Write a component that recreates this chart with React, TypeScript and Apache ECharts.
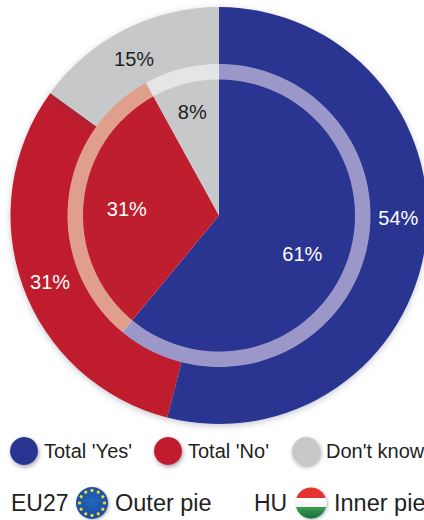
import React, { useEffect, useRef } from "react";
import * as echarts from "echarts";

const categories = ["Total 'Yes'", "Total 'No'", "Don't know"];
const outerValues = [54, 31, 15]; // EU27
const innerValues = [61, 31, 8]; // HU
const sliceColors = ["#2a3591", "#bf1e2e", "#c7c8ca"];
const ringColors = ["#9b98c9", "#e09f8c", "#e4e5e7"];
const outerLabelColors = ["#ffffff", "#ffffff", "#231f20"];
const innerLabelColors = ["#ffffff", "#ffffff", "#231f20"];
const outerLabelShift = [[-2, -20], [3, 5], [-2, 6]];
const innerLabelShift = [[16, 14], [-21, 0], [-9, -34]];

const FONT = "Liberation Sans";
const INK = "#231f20";
const CENTER = ["219px", "215.5px"];
const LEGEND_X = [10, 154, 292];
const LEGEND_Y = 437;

// Gold stars on the round EU badge.
function euStars(cx: number, cy: number, r: number, count: number) {
  const stars = [];
  for (let i = 0; i < count; i++) {
    const a = (i / count) * Math.PI * 2;
    stars.push({
      type: "circle",
      shape: { cx: cx + Math.cos(a) * r, cy: cy + Math.sin(a) * r, r: 1.6 },
      style: { fill: "#f4d92a" },
    });
  }
  return stars;
}

function pieData(values: number[], colors: string[], labelColors?: string[]) {
  return values.map((value, i) => ({
    name: categories[i],
    value,
    itemStyle: { color: colors[i] },
    label: labelColors ? { color: labelColors[i] } : undefined,
  }));
}

export default function App() {
  const ref = useRef<HTMLDivElement>(null);

  useEffect(() => {
    document.body.style.margin = "0";
    document.body.style.overflow = "hidden";
    const chart = echarts.init(ref.current!, null, { renderer: "svg" });
    const labelBase = {
      show: true,
      position: "inside" as const,
      formatter: "{c}%",
      fontFamily: FONT,
      fontSize: 20,
      textBorderWidth: 0,
    };
    chart.setOption({
      animation: false,
      backgroundColor: "#ffffff",
      legend: categories.map((name, i) => ({
        data: [name],
        left: LEGEND_X[i],
        top: LEGEND_Y,
        padding: 0,
        icon: "circle",
        itemWidth: 28,
        itemHeight: 28,
        selectedMode: false,
        itemStyle: {
          shadowColor: "rgba(50,50,70,0.45)",
          shadowBlur: 4,
          shadowOffsetX: 1,
          shadowOffsetY: 2,
        },
        textStyle: {
          fontFamily: FONT,
          fontSize: 20,
          color: INK,
          padding: [0, 0, 0, 1],
        },
      })),
      series: [
        {
          name: "EU27",
          type: "pie",
          center: CENTER,
          radius: [151, 208.5],
          startAngle: 90,
          silent: true,
          labelLine: { show: false },
          label: labelBase,
          labelLayout: (p: any) => ({
            dx: outerLabelShift[p.dataIndex][0],
            dy: outerLabelShift[p.dataIndex][1],
          }),
          itemStyle: {
            shadowColor: "rgba(60,70,100,0.3)",
            shadowBlur: 6,
            shadowOffsetY: 2,
          },
          data: pieData(outerValues, sliceColors, outerLabelColors),
        },
        {
          name: "HU",
          type: "pie",
          center: CENTER,
          radius: [0, 137],
          startAngle: 90,
          silent: true,
          labelLine: { show: false },
          label: labelBase,
          labelLayout: (p: any) => ({
            dx: innerLabelShift[p.dataIndex][0],
            dy: innerLabelShift[p.dataIndex][1],
          }),
          data: pieData(innerValues, sliceColors, innerLabelColors),
        },
        {
          name: "HU ring",
          type: "pie",
          center: CENTER,
          radius: [136, 151.5],
          startAngle: 90,
          silent: true,
          label: { show: false },
          labelLine: { show: false },
          data: pieData(innerValues, ringColors),
        },
      ],
      graphic: [
        { type: "text", x: 11, y: 491, style: { text: "EU27", fontFamily: FONT, fontSize: 23, fill: INK } },
        {
          type: "circle",
          shape: { cx: 92, cy: 503, r: 16 },
          style: {
            fill: new echarts.graphic.RadialGradient(0.5, 0.45, 0.6, [
              { offset: 0, color: "#2268bd" },
              { offset: 1, color: "#174a9c" },
            ]),
            shadowColor: "rgba(50,50,70,0.4)",
            shadowBlur: 3,
            shadowOffsetX: 1,
            shadowOffsetY: 1,
          },
        },
        ...euStars(92, 503, 12.5, 12),
        { type: "text", x: 115, y: 491, style: { text: "Outer pie", fontFamily: FONT, fontSize: 23.5, fill: INK } },
        { type: "text", x: 254, y: 491, style: { text: "HU", fontFamily: FONT, fontSize: 23, fill: INK } },
        {
          type: "circle",
          shape: { cx: 311, cy: 503, r: 15.5 },
          style: {
            fill: new echarts.graphic.LinearGradient(0, 0, 0, 1, [
              { offset: 0, color: "#e8312f" },
              { offset: 0.33, color: "#e53030" },
              { offset: 0.34, color: "#ffffff" },
              { offset: 0.62, color: "#f2f2f2" },
              { offset: 0.63, color: "#3f9a52" },
              { offset: 1, color: "#16703a" },
            ]),
            shadowColor: "rgba(50,50,70,0.4)",
            shadowBlur: 3,
            shadowOffsetX: 1,
            shadowOffsetY: 1,
          },
        },
        { type: "text", x: 334, y: 491, style: { text: "Inner pie", fontFamily: FONT, fontSize: 23.5, fill: INK } },
      ],
    });
    return () => chart.dispose();
  }, []);

  return <div ref={ref} style={{ width: 424, height: 520 }} />;
}
